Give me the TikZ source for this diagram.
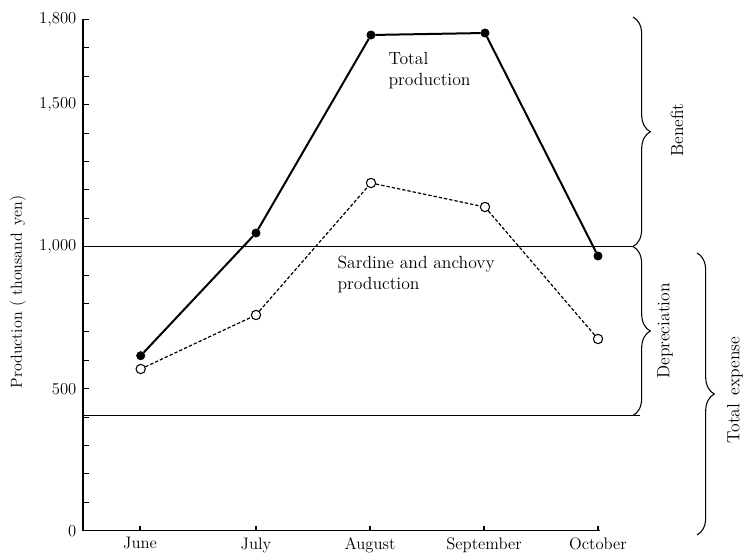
\documentclass[tikz,border=0pt]{standalone}
\usetikzlibrary{decorations.pathreplacing}
\begin{document}
\begin{tikzpicture}[x=0.75pt,y=-0.75pt,
  lab/.style={font=\fontsize{12.5}{15}\selectfont, inner sep=1pt},
  biglab/.style={font=\fontsize{13.2}{15.5}\selectfont, inner sep=1pt},
  filled/.style={circle,fill=black,draw=black,inner sep=0pt,minimum size=6.3pt},
  opendot/.style={circle,fill=white,draw=black,line width=0.8pt,inner sep=0pt,minimum size=7pt},
  totline/.style={line width=1.5pt},
  sardline/.style={line width=0.9pt,dash pattern=on 2.5pt off 1.5pt},
  axisline/.style={line width=1.2pt},
  hline/.style={line width=0.8pt},
  brc/.style={decorate,decoration={brace,amplitude=13pt},line width=0.8pt}]
\useasboundingbox (0,0) rectangle (744,556);

% axes
\coordinate (top) at (83,19.4);
\coordinate (orig) at (83,530.7);
\coordinate (xend) at (600,530.7);
\draw[axisline] (top) -- (orig) -- (xend);
\foreach \k in {0,...,18} {
  \coordinate (yt\k) at (83,{530.7-28.4*\k});
  \draw[line width=0.8pt] (yt\k) -- ++(6,0);
}
\foreach \k/\t in {0/0,5/500,10/{1,000},15/{1,500},18/{1,800}}
  \node[lab,anchor=east] (yl\k) at (78,{530.7-28.4*\k}) {\t};

% x ticks and labels
\foreach \x/\m [count=\i] in {140/June,256/July,370/August,484/September,598/October} {
  \coordinate (xt\i) at (\x,530.7);
  \draw[line width=0.8pt] (xt\i) -- ++(0,-5);
  \node[lab,anchor=north] (ml\i) at (\x,536) {\m};
}

\node[font=\fontsize{12}{14}\selectfont,inner sep=1pt,rotate=90] (ylab) at (18,292) {Production ( thousand\, yen)};

% horizontal reference lines
\coordinate (ha) at (83,246.5);
\coordinate (hb) at (633,246.5);
\coordinate (la) at (83,415.5);
\coordinate (lb) at (640,415.5);
\draw[hline] (ha) -- (hb);
\draw[hline] (la) -- (lb);

% braces
\coordinate (b1) at (633,17);
\coordinate (b2) at (633,246.5);
\coordinate (d2) at (633,415.5);
\coordinate (e1) at (697,253);
\coordinate (e2) at (697,535);
\draw[brc] (b1) -- (b2);
\draw[brc] (b2) -- (d2);
\draw[brc] (e1) -- (e2);
\node[biglab,rotate=90] (ben) at (677,130) {Benefit};
\node[biglab,rotate=90] (dep) at (665,331) {Depreciation};
\node[biglab,rotate=90] (tex) at (735,390) {Total\, expense};

% data: total production
\node[filled] (t1) at (140.7,355.7) {};
\node[filled] (t2) at (256,233) {};
\node[filled] (t3) at (371,35) {};
\node[filled] (t4) at (485,33) {};
\node[filled] (t5) at (598,256) {};
\draw[totline] (t1) -- (t2) -- (t3) -- (t4) -- (t5);

% data: sardine and anchovy
\node[opendot] (s1) at (140.7,369) {};
\node[opendot] (s2) at (256,315) {};
\node[opendot] (s3) at (371,183) {};
\node[opendot] (s4) at (485,207) {};
\node[opendot] (s5) at (598,339) {};
\draw[sardline] (s1) -- (s2) -- (s3) -- (s4) -- (s5);

% curve labels
\node[biglab,anchor=north west,align=left] (tp) at (387,51) {Total\\production};
\node[biglab,anchor=north west,align=left] (sp) at (336,255) {Sardine and anchovy\\production};
\end{tikzpicture}
\end{document}
